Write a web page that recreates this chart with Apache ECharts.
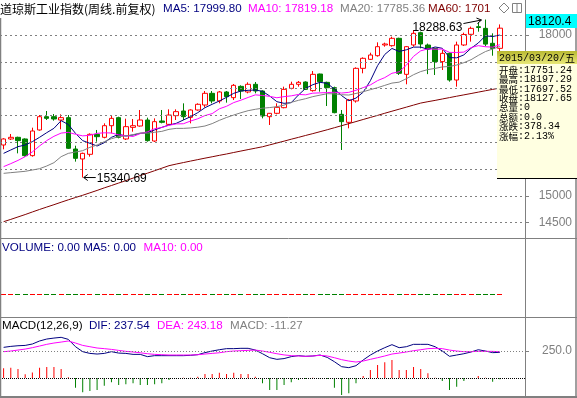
<!DOCTYPE html>
<html>
<head>
<meta charset="utf-8">
<script src="https://cdn.jsdelivr.net/npm/echarts@6/dist/echarts.min.js"></script>
<style>
html, body { margin: 0; padding: 0; background: #fff; }
#main { width: 577px; height: 398px; }
</style>
</head>
<body>
<div id="main"></div>
<script>
// 周线 2013/11/22 - 2015/03/20
var dates = ['2013/11/22','2013/11/29','2013/12/06','2013/12/13','2013/12/20','2013/12/27',
  '2014/01/03','2014/01/10','2014/01/17','2014/01/24','2014/01/31','2014/02/07','2014/02/14','2014/02/21','2014/02/28',
  '2014/03/07','2014/03/14','2014/03/21','2014/03/28','2014/04/04','2014/04/11','2014/04/17','2014/04/25',
  '2014/05/02','2014/05/09','2014/05/16','2014/05/23','2014/05/30','2014/06/06','2014/06/13','2014/06/20','2014/06/27',
  '2014/07/03','2014/07/11','2014/07/18','2014/07/25','2014/08/01','2014/08/08','2014/08/15','2014/08/22','2014/08/29',
  '2014/09/05','2014/09/12','2014/09/19','2014/09/26','2014/10/03','2014/10/10','2014/10/17','2014/10/24','2014/10/31',
  '2014/11/07','2014/11/14','2014/11/21','2014/11/28','2014/12/05','2014/12/12','2014/12/19','2014/12/26',
  '2015/01/02','2015/01/09','2015/01/16','2015/01/23','2015/01/30','2015/02/06','2015/02/13','2015/02/20','2015/02/27',
  '2015/03/06','2015/03/13','2015/03/20'];

var opens = [15948,16060,16091,16060,15749,16228,16476,16476,16414,16458,
  15873,15687,15774,16147,16091,16308,16458,16060,16277,16302,
  16414,16022,16396,16333,16495,16582,16464,16601,16694,16912,
  16769,16937,16831,17042,16937,17080,16955,16476,16539,16644,
  17005,17080,17123,16962,17272,17117,17017,16520,16371,16769,
  17378,17546,17614,17814,17801,17938,17266,17814,18044,17813,
  17751,17503,17658,17160,17814,18013,18155,18124,17845,17751.24];
var closes = [16060,16091,16029,15749,16209,16476,16445,16433,16458,15886,
  15699,15792,16147,16103,16308,16445,16091,16290,16308,16414,
  16029,16383,16371,16507,16570,16476,16601,16707,16912,16769,
  16937,16850,17061,16955,17080,16955,16489,16539,16650,16986,
  17080,17117,16986,17266,17129,17017,16551,16383,16787,17378,
  17565,17627,17782,17832,17938,17285,17782,18031,17832,17737,
  17503,17658,17160,17814,18010,18124,18140,17830,17749.31,18127.65];
var lows = [15867,16041,15792,15730,15730,16215,16414,16402,16240,15873,
  15637,15340.69,15730,16010,16072,16165,16072,16041,16196,16290,
  16010,16004,16352,16333,16414,16414,16352,16588,16650,16725,
  16725,16738,16787,16806,16912,16912,16445,16321,16520,16632,
  16986,17036,16974,16943,16943,16675,16539,15855,16259,16738,
  17285,17534,17596,17782,17782,17254,17080,17782,17751,17270,
  17254,17347,17129,17036,17795,17876,18062,17790,17614,17697.52];
var highs = [16075,16153,16103,16072,16271,16507,16582,16526,16520,16507,
  15935,15805,16165,16228,16352,16507,16476,16439,16433,16601,
  16458,16445,16601,16613,16613,16725,16613,16725,16955,16955,
  16955,16955,17086,17061,17117,17123,16968,16545,16725,17036,
  17129,17142,17135,17328,17280,17129,17036,16601,16806,17397,
  17583,17670,17863,17857,17969,17950,17795,18093,18062,17840,
  17760,17720,17677,17876,18044,18156,18230,18288.63,18031,18197.29];

var ma5 = [15792,15855,15917,15948,16010,16091,16178,16259,16402,16330,
  16165,16029,15979,15929,15991,16091,16147,16116,16134,16165,
  16178,16228,16277,16321,16352,16414,16476,16551,16644,16707,
  16769,16837,16912,16955,16968,16974,16949,16862,16756,16725,
  16738,16881,17005,17073,17117,17098,16990,16869,16773,16823,
  16933,17148,17428,17637,17749,17693,17724,17774,17774,17733,
  17777,17752,17578,17574,17629,17753,17850,17984,17971,17999.80];
var ma10 = [15544,15600,15660,15730,15820,15930,16030,16110,16170,16184,
  16148,16118,16129,16165,16175,16172,16136,16122,16107,16160,
  16193,16252,16274,16315,16341,16344,16395,16437,16497,16533,
  16623,16670,16739,16784,16835,16883,16872,16855,16829,16850,
  16865,16891,16884,16915,16920,16926,16932,16917,16930,16969,
  17018,17069,17149,17205,17286,17313,17436,17601,17705,17741,
  17735,17738,17676,17674,17681,17765,17801,17781,17773,17819.18];
var ma20 = [15419,15432,15444,15457,15481,15506,15556,15618,15730,15792,
  15817,15842,15904,15948,16010,16066,16103,16116,16141,16172,
  16170,16185,16202,16240,16258,16258,16266,16280,16302,16347,
  16408,16461,16507,16550,16588,16614,16634,16646,16663,16692,
  16744,16781,16812,16850,16878,16905,16902,16886,16880,16910,
  16942,16980,17017,17060,17103,17120,17184,17259,17318,17355,
  17377,17404,17413,17440,17484,17539,17619,17691,17739,17785.36];
var ma60 = [14517,14560,14605,14650,14698,14745,14790,14834,14880,14925,
  14968,15010,15055,15100,15148,15192,15238,15283,15330,15378,
  15422,15468,15515,15562,15592,15620,15648,15675,15702,15728,
  15755,15780,15808,15835,15862,15888,15915,15950,15985,16020,
  16056,16090,16126,16160,16196,16232,16270,16308,16346,16385,
  16424,16462,16500,16540,16578,16616,16654,16692,16730,16756,
  16780,16806,16832,16858,16883,16908,16934,16960,16985,17010.20];

var volumes = [0,0,0,0,0,0,0,0,0,0, 0,0,0,0,0,0,0,0,0,0, 0,0,0,0,0,0,0,0,0,0,
  0,0,0,0,0,0,0,0,0,0, 0,0,0,0,0,0,0,0,0,0, 0,0,0,0,0,0,0,0,0,0, 0,0,0,0,0,0,0,0,0,0];

var dif = [284,293,299,302,315,343,361,370,377,358,
  290,244,228,222,228,244,231,228,219,219,
  198,207,207,207,207,207,210,216,235,250,
  262,272,272,275,275,259,225,188,173,180,
  198,207,201,204,213,191,151,105,96,114,
  167,213,250,281,309,281,290,312,312,312,
  290,250,201,213,225,241,262,250,235,237.54];
var dea = [244,250,259,268,281,296,312,324,333,343,
  324,302,290,278,272,265,256,247,241,234,
  225,219,216,213,213,213,213,216,222,228,
  234,244,250,253,256,259,250,238,225,214,
  207,204,201,204,210,204,188,170,157,148,
  157,173,188,204,222,231,241,253,262,272,
  275,272,259,250,244,244,247,247,247,243.18];
var macd = [90,96,83,34,52,96,102,102,83,8,
  -90,-133,-120,-111,-71,-40,-65,-59,-49,-65,
  -65,-59,-49,-19,-3,2,3,12,37,37,
  49,37,49,37,37,12,-49,-111,-111,-65,
  -40,-19,-9,3,-2,-9,-90,-157,-142,-49,
  19,74,120,145,167,74,74,102,83,43,
  3,-28,-111,-80,-28,-3,19,2,-34,-11.27];

var priceTicks = [14500, 15000, 15500, 16000, 16500, 17000, 17500, 18000];
var macdTicks = [250];
var crossValue = '18120.4';

var GRAY = '#808080', NAVY = '#000080', PINK = '#ff00ff', DRED = '#800000';
var RED = '#ff0000', GREEN = '#008000';
var LATIN = 'Liberation Sans, Arial, sans-serif';
var CJK = '"Noto Sans CJK SC", sans-serif';
var MONO = '"Liberation Mono", monospace';

var chart = echarts.init(document.getElementById('main'));
var cats = dates.concat(['', '', '']);
var candleData = opens.map(function (o, i) { return [o, closes[i], lows[i], highs[i]]; });
var last = dates.length - 1;

function xAx(g) {
    return {
        type: 'category', gridIndex: g, data: cats, boundaryGap: true,
        axisLine: {show: false}, axisTick: {show: false}, axisLabel: {show: false}, splitLine: {show: false}
    };
}
function maLine(name, data, color) {
    return {
        name: name, type: 'line', data: data, xAxisIndex: 0, yAxisIndex: 0,
        showSymbol: false, symbol: 'none', z: 4, silent: true,
        lineStyle: {color: color, width: 1}
    };
}
function upColor(i) { return closes[i] >= opens[i] ? RED : GREEN; }

chart.setOption({
    animation: false,
    grid: [
        {left: 0, right: 52, top: 18, height: 220},
        {left: 0, right: 52, top: 279, height: 30},
        {left: 0, right: 52, top: 318, height: 79}
    ],
    xAxis: [xAx(0), xAx(1), xAx(2)],
    yAxis: [
        {
            type: 'value', gridIndex: 0, position: 'right', min: 14212.6, max: 18317.2, scale: true,
            axisLine: {show: true, lineStyle: {color: GRAY}},
            axisTick: {show: true, length: 4, customValues: priceTicks, lineStyle: {color: GRAY}},
            axisLabel: {customValues: priceTicks, color: GRAY, fontSize: 12, fontFamily: LATIN, align: 'right', margin: 47,
                formatter: function (v) { return String(v); }},
            splitLine: {show: false}
        },
        {type: 'value', gridIndex: 1, min: -1, max: 1, show: false},
        {
            type: 'value', gridIndex: 2, position: 'right', min: -176, max: 556,
            axisLine: {show: false},
            axisTick: {show: true, length: 4, customValues: macdTicks, lineStyle: {color: GRAY}},
            axisLabel: {customValues: macdTicks, color: GRAY, fontSize: 12, fontFamily: LATIN, align: 'right', margin: 47,
                formatter: function (v) { return v.toFixed(1); }},
            splitLine: {show: false}
        }
    ],
    series: [
        {
            type: 'line', data: [], xAxisIndex: 0, yAxisIndex: 0, z: 1, silent: true,
            markLine: {
                silent: true, symbol: 'none', label: {show: false},
                lineStyle: {color: GRAY, type: [2, 3], width: 1},
                data: priceTicks.map(function (v) { return {yAxis: v}; })
            }
        },
        {
            type: 'candlestick', data: candleData, xAxisIndex: 0, yAxisIndex: 0, barWidth: 5, z: 3,
            itemStyle: {color: '#ffffff', color0: GREEN, borderColor: RED, borderColor0: GREEN, borderColorDoji: RED, borderWidth: 1}
        },
        maLine('MA5', ma5, NAVY),
        maLine('MA10', ma10, PINK),
        maLine('MA20', ma20, GRAY),
        maLine('MA60', ma60, DRED),
        {
            // 成交量全为 0：每根画成一条横线
            type: 'custom', xAxisIndex: 1, yAxisIndex: 1, silent: true,
            data: volumes.map(function (v, i) { return [i, v]; }),
            renderItem: function (params, api) {
                var p = api.coord([api.value(0), api.value(1)]);
                return {type: 'rect', shape: {x: Math.round(p[0] - 2.5), y: Math.round(p[1]), width: 5, height: 1},
                    style: {fill: upColor(params.dataIndex)}};
            }
        },
        {
            type: 'bar', data: macd, xAxisIndex: 2, yAxisIndex: 2, barWidth: 1,
            itemStyle: {color: function (p) { return p.value >= 0 ? RED : GREEN; }},
            markLine: {
                silent: true, symbol: 'none', label: {show: false},
                data: [
                    {yAxis: 0, lineStyle: {color: '#000', type: [1, 1], width: 1}},
                    {yAxis: 250, lineStyle: {color: GRAY, type: [1, 2], width: 1}}
                ]
            }
        },
        {type: 'line', data: dif, xAxisIndex: 2, yAxisIndex: 2, symbol: 'none', z: 4, lineStyle: {color: NAVY, width: 1}},
        {type: 'line', data: dea, xAxisIndex: 2, yAxisIndex: 2, symbol: 'none', z: 4, lineStyle: {color: PINK, width: 1}}
    ]
});

// 标注、图例、信息框
function txt(x, y, s, color, font, align, z) {
    return {type: 'text', x: x, y: y, z: z || 100, silent: true,
        style: {text: s, fill: color, font: font, textAlign: align || 'left', textVerticalAlign: 'middle'}};
}
function seg(x1, y1, x2, y2, color, w) {
    return {type: 'line', z: 90, silent: true, shape: {x1: x1, y1: y1, x2: x2, y2: y2},
        style: {stroke: color, lineWidth: w || 1}};
}

var hiIdx = highs.indexOf(Math.max.apply(null, highs));
var loIdx = lows.indexOf(Math.min.apply(null, lows));
var hi = chart.convertToPixel({xAxisIndex: 0, yAxisIndex: 0}, [hiIdx, highs[hiIdx]]);
var lo = chart.convertToPixel({xAxisIndex: 0, yAxisIndex: 0}, [loIdx, lows[loIdx]]);

var chg = closes[last] - closes[last - 1];
var pct = chg / closes[last - 1] * 100;
var wk = '日一二三四五六'.charAt(new Date(dates[last].replace(/\//g, '-') + 'T00:00:00').getDay());
var rows = [
    ['开盘', opens[last].toFixed(2)],
    ['最高', highs[last].toFixed(2)],
    ['最低', lows[last].toFixed(2)],
    ['收盘', closes[last].toFixed(2)],
    ['总量', volumes[last].toFixed(0)],
    ['总额', volumes[last].toFixed(1)],
    ['涨跌', chg.toFixed(2)],
    ['涨幅', pct.toFixed(2) + '%']
];

var f12 = '11.6px ' + LATIN;
var g = [
    // frame
    seg(0.5, 18, 0.5, 397, GRAY, 1.5),
    seg(0, 238.5, 577, 238.5, GRAY, 1),
    seg(0, 317.5, 577, 317.5, GRAY, 1),
    seg(0, 397, 577, 397, GRAY, 2),
    seg(525.5, 0, 525.5, 397, GRAY, 1),
    seg(576, 14, 576, 397, GRAY, 1.5),
    // title row
    txt(0, 9, '道琼斯工业指数(周线.前复权)', '#000', '12px ' + CJK),
    txt(163, 9, 'MA5: ' + ma5[last].toFixed(2), NAVY, f12),
    txt(248, 9, 'MA10: ' + ma10[last].toFixed(2), PINK, f12),
    txt(340, 9, 'MA20: ' + ma20[last].toFixed(2), GRAY, f12),
    txt(428, 9, ('MA60: ' + ma60[last].toFixed(2)).slice(0, 10), DRED, f12),
    {type: 'polygon', z: 90, silent: true, shape: {points: [[504, 3], [509, 8], [504, 13], [499, 8]]}, style: {fill: '#fff', stroke: GRAY, lineWidth: 1}},
    {type: 'rect', z: 90, silent: true, shape: {x: 512.5, y: 3.5, width: 9, height: 9}, style: {fill: '#fff', stroke: GRAY, lineWidth: 1}},
    seg(517, 3.5, 517, 12.5, GRAY, 1),
    // crosshair value box
    {type: 'rect', z: 95, silent: true, shape: {x: 526, y: 14, width: 51, height: 14}, style: {fill: '#00ffff', stroke: null}},
    txt(528, 21.5, crossValue, '#000', '12px ' + LATIN),
    // high / low marks
    txt(hi[0] - 23, hi[1] + 8, highs[hiIdx].toFixed(2), '#000', '12px ' + LATIN, 'right'),
    seg(hi[0] - 22, hi[1] + 4, hi[0] - 4, hi[1] + 0.5, '#000', 1),
    {type: 'polyline', z: 90, silent: true, shape: {points: [[hi[0] - 9, hi[1] - 1.5], [hi[0] - 4, hi[1] + 0.5], [hi[0] - 8, hi[1] + 4]]}, style: {stroke: '#000', fill: null, lineWidth: 1}},
    seg(lo[0] + 1, lo[1], lo[0] + 13, lo[1], '#000', 1),
    {type: 'polyline', z: 90, silent: true, shape: {points: [[lo[0] + 5, lo[1] - 3], [lo[0] + 1, lo[1]], [lo[0] + 5, lo[1] + 3]]}, style: {stroke: '#000', fill: null, lineWidth: 1}},
    txt(lo[0] + 14, lo[1] + 1, lows[loIdx].toFixed(2), '#000', '12px ' + LATIN),
    // volume legend
    txt(2, 248, 'VOLUME: ' + volumes[last].toFixed(2) + ' MA5: ' + (0).toFixed(2), NAVY, f12),
    txt(143.5, 248, 'MA10: ' + (0).toFixed(2), PINK, f12),
    // macd legend
    txt(2, 326, 'MACD(12,26,9)', '#000', f12),
    txt(89, 326, 'DIF: ' + dif[last].toFixed(2), NAVY, f12),
    txt(157, 326, 'DEA: ' + dea[last].toFixed(2), PINK, f12),
    txt(230, 326, 'MACD: ' + macd[last].toFixed(2), GRAY, f12),
    // info box
    {type: 'rect', z: 96, silent: true, shape: {x: 497, y: 51, width: 80, height: 127}, style: {fill: '#ffffe1', stroke: null}},
    {type: 'rect', z: 97, silent: true, shape: {x: 497, y: 51, width: 80, height: 13},
        style: {fill: new echarts.graphic.LinearGradient(0, 0, 0, 1, [{offset: 0, color: '#b8b830'}, {offset: 1, color: '#e8e878'}]), stroke: null}},
    seg(497, 178.5, 577, 178.5, '#000', 1),
    txt(499, 58, dates[last] + '/', '#000', '10px ' + MONO, 'left', 98),
    txt(565, 58, wk, '#000', '10px ' + CJK, 'left', 98)
];
rows.forEach(function (r, i) {
    var y = 70 + i * 9.45;
    g.push(txt(499, y, r[0], '#000', '9.5px ' + CJK, 'left', 98));
    g.push(txt(518, y, ':' + r[1], '#000', '10px ' + MONO, 'left', 98));
});

chart.setOption({graphic: g});
</script>
</body>
</html>
